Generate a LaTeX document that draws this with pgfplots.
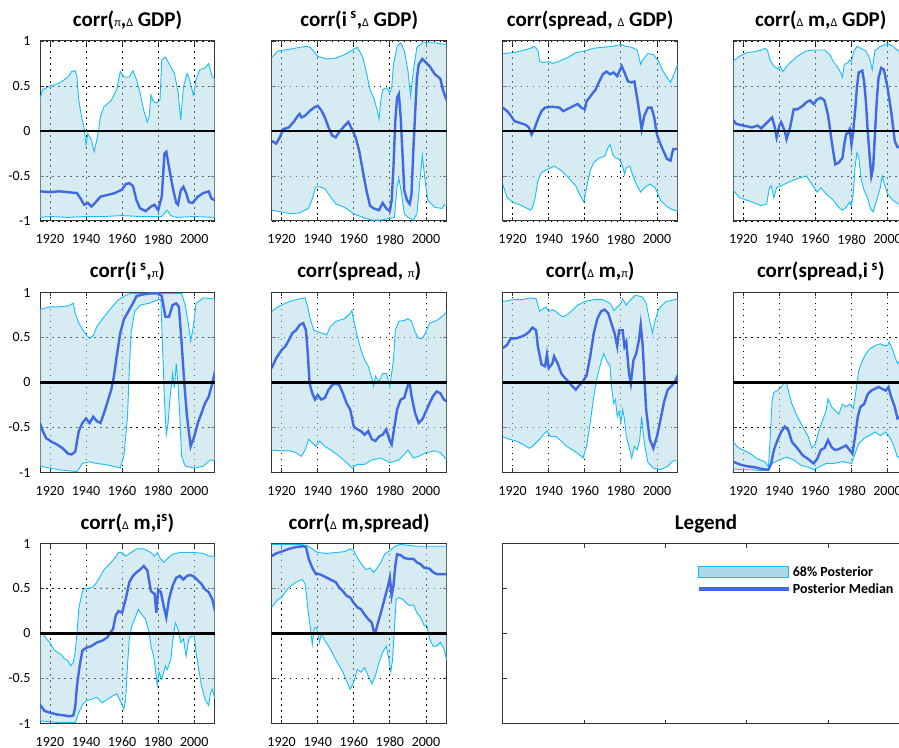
\documentclass[border=0pt]{standalone}
\usepackage{pgfplots}
\pgfplotsset{compat=1.18}
\usepgfplotslibrary{fillbetween}
\usepackage{fontspec}
\setmainfont{Carlito}
\definecolor{bandfill}{RGB}{173,216,230}
\definecolor{edgeblue}{RGB}{20,190,250}
\definecolor{royal}{RGB}{65,105,225}
\newcommand{\sm}[1]{{\fontsize{12}{12}\selectfont\mdseries #1}}
\newcommand{\band}[3]{%
 \addplot[name path=U, edgeblue, line width=0.9pt] coordinates {#1};
 \addplot[name path=L, edgeblue, line width=0.9pt] coordinates {#2};
 \addplot[bandfill, fill opacity=0.5] fill between[of=U and L];
 \addplot[royal, line width=2.4pt] coordinates {#3};
 \addplot[black, line width=2.4pt] coordinates {(1914,0) (2012,0)};
}
\pgfplotsset{
 panel/.style={scale only axis, width=175pt, height=180pt,
  xmin=1914.5, xmax=2011.5, ymin=-1, ymax=1,
  xtick={1920,1940,1960,1980,2000}, xticklabels={1920,1940,1960,1980,2000},
  ytick={-1,-0.5,0,0.5,1},
  grid=major, grid style={black, line width=0.8pt, dash pattern=on 1.6pt off 4.4pt},
  tick align=inside, major tick length=4pt, tick style={black!80, line width=0.8pt},
  axis line style={black!80, line width=1pt},
  /pgf/number format/assume math mode=true,
  tick label style={font=\fontsize{14}{15}\selectfont},
  xticklabel style={yshift=-10pt},
  yticklabel style={xshift=-6pt},
  title style={at={(0.5,1)}, anchor=base, yshift=8.5pt, font=\fontsize{21}{23}\selectfont\bfseries},
 },
 ylab/.style={yticklabels={-1,-0.5,0,0.5,1}},
 noylab/.style={yticklabels={}},
}
\begin{document}
\begin{tikzpicture}

% ---------- Row 1 ----------
\begin{axis}[panel, ylab, at={(40pt,526pt)}, anchor=south west, title={corr(\sm{π},\sm{Δ} GDP)}]
\band{(1914.5,0.36) (1916,0.46) (1920,0.5) (1925,0.53) (1928,0.57) (1930,0.6) (1932,0.66) (1934,0.67) (1935,0.6) (1936,0.34) (1937.5,0.16) (1939,0.03) (1940,-0.16) (1941,-0.03) (1943,-0.1) (1944.5,-0.23) (1946,-0.1) (1947,0.01) (1948,0.16) (1950,0.27) (1954,0.34) (1957,0.46) (1959,0.66) (1961,0.6) (1964,0.6) (1966,0.67) (1968,0.57) (1970,0.42) (1972,0.23) (1974,0.1) (1975,0.16) (1976,0.4) (1977,0.34) (1979,0.31) (1981,0.34) (1982,0.79) (1984,0.82) (1986,0.75) (1989,0.64) (1991,0.44) (1992.5,0.12) (1994,0.49) (1996,0.64) (1997,0.6) (1999.5,0.4) (2001,0.57) (2003,0.68) (2006,0.7) (2008,0.75) (2010,0.6) (2011.5,0.58)}
{(1914.5,-0.96) (1920,-0.95) (1930,-0.96) (1940,-0.95) (1950,-0.95) (1960,-0.94) (1970,-0.95) (1975,-0.95) (1982,-0.95) (1985,-0.88) (1987,-0.94) (1990,-0.96) (2000,-0.95) (2011.5,-0.96)}
{(1914.5,-0.67) (1920,-0.68) (1925,-0.67) (1930,-0.68) (1935,-0.69) (1937,-0.75) (1939,-0.82) (1941,-0.8) (1943,-0.84) (1945,-0.8) (1948,-0.73) (1952,-0.71) (1956,-0.69) (1960,-0.65) (1962,-0.59) (1964,-0.58) (1966,-0.61) (1968,-0.77) (1970,-0.86) (1973,-0.89) (1976,-0.84) (1978,-0.82) (1980,-0.88) (1982,-0.73) (1983.5,-0.25) (1984.5,-0.23) (1986,-0.4) (1988,-0.62) (1990,-0.8) (1991,-0.82) (1992.5,-0.66) (1994,-0.62) (1995.5,-0.69) (1997,-0.79) (1999,-0.8) (2002,-0.73) (2005,-0.69) (2008,-0.67) (2009.5,-0.75) (2011.5,-0.77)}
\end{axis}

\begin{axis}[panel, noylab, at={(271.7pt,526pt)}, anchor=south west, title={corr(i\,\textsuperscript{s},\sm{Δ} GDP)}]
\band{(1914.5,0.82) (1918,0.89) (1925,0.91) (1930,0.93) (1934,0.94) (1936,0.93) (1940,0.83) (1945,0.8) (1950,0.81) (1955,0.85) (1960,0.91) (1962,0.93) (1965,0.82) (1967,0.65) (1969,0.46) (1971,0.37) (1973,0.23) (1974,0.13) (1975,0.34) (1976,0.46) (1978,0.48) (1980,0.43) (1981,0.48) (1982,0.74) (1984,0.94) (1986,0.98) (1988,0.89) (1990,0.67) (1991.5,0.39) (1993,0.67) (1995,0.93) (1998,0.98) (2005,0.98) (2011.5,0.96)}
{(1914.5,-0.88) (1920,-0.9) (1925,-0.92) (1930,-0.91) (1935,-0.86) (1937,-0.75) (1939,-0.62) (1941,-0.62) (1944,-0.64) (1946,-0.7) (1950,-0.81) (1955,-0.85) (1960,-0.92) (1965,-0.96) (1970,-0.99) (1975,-0.99) (1980,-0.97) (1982.5,-0.96) (1984,-0.62) (1985,-0.53) (1986.5,-0.7) (1988,-0.92) (1990,-0.96) (1993,-0.99) (1995,-0.92) (1997,-0.48) (1998,-0.27) (1999.5,-0.55) (2001,-0.77) (2005,-0.85) (2009,-0.86) (2010,-0.82) (2011.5,-0.83)}
{(1914.5,-0.11) (1917,-0.14) (1919,-0.07) (1921,0.02) (1924,0.04) (1927,0.11) (1929,0.17) (1930,0.19) (1931,0.15) (1933,0.17) (1936,0.23) (1938,0.26) (1940,0.28) (1942,0.23) (1944,0.15) (1946,0.04) (1948,-0.05) (1950,-0.07) (1952,-0.01) (1955,0.06) (1957,0.1) (1959,0.02) (1961,-0.07) (1963,-0.22) (1965,-0.44) (1967,-0.66) (1969,-0.83) (1971,-0.86) (1974,-0.88) (1976,-0.8) (1978,-0.86) (1980,-0.89) (1981,-0.77) (1982,-0.4) (1983,0.11) (1984,0.37) (1985,0.41) (1986,0.15) (1987,-0.25) (1988,-0.66) (1989.5,-0.77) (1991,-0.81) (1992,-0.7) (1993,-0.22) (1994,0.19) (1995,0.59) (1996,0.74) (1998,0.8) (2000,0.76) (2002,0.72) (2005,0.63) (2008,0.58) (2009.5,0.45) (2011.5,0.34)}
\end{axis}

\begin{axis}[panel, noylab, at={(502.7pt,526pt)}, anchor=south west, title={corr(spread, \sm{Δ} GDP)}]
\band{(1914.5,0.86) (1920,0.87) (1925,0.89) (1930,0.92) (1932,0.94) (1934,0.9) (1935,0.77) (1937,0.76) (1940,0.77) (1942,0.75) (1945,0.77) (1950,0.81) (1955,0.87) (1960,0.89) (1965,0.92) (1970,0.93) (1975,0.94) (1980,0.96) (1983,0.94) (1986,0.93) (1989,0.9) (1991,0.74) (1992,0.79) (1995,0.86) (1998,0.85) (2001,0.77) (2003,0.68) (2005,0.61) (2007.5,0.54) (2009,0.61) (2011.5,0.74)}
{(1914.5,-0.59) (1917,-0.74) (1920,-0.79) (1925,-0.83) (1930,-0.88) (1931,-0.85) (1932.5,-0.74) (1934,-0.55) (1936,-0.46) (1940,-0.42) (1943,-0.39) (1947,-0.44) (1951,-0.52) (1955,-0.61) (1958,-0.74) (1959.5,-0.79) (1961,-0.63) (1963,-0.44) (1965,-0.35) (1968,-0.3) (1971,-0.28) (1973,-0.18) (1974,-0.15) (1975.5,-0.26) (1977,-0.3) (1979,-0.31) (1981,-0.39) (1982,-0.48) (1983,-0.41) (1985,-0.39) (1987,-0.52) (1989,-0.61) (1991,-0.68) (1993,-0.63) (1996,-0.59) (1999,-0.63) (2002,-0.77) (2005,-0.83) (2008,-0.87) (2011.5,-0.89)}
{(1914.5,0.26) (1917,0.22) (1919,0.17) (1921,0.11) (1924,0.09) (1927,0.07) (1929,0.04) (1930.5,-0.04) (1932,0.02) (1934,0.13) (1936,0.22) (1938,0.26) (1942,0.27) (1946,0.26) (1948,0.22) (1952,0.26) (1956,0.3) (1958,0.26) (1960,0.24) (1961,0.33) (1964,0.41) (1966,0.46) (1968,0.55) (1970,0.63) (1972,0.66) (1974,0.63) (1976,0.65) (1978,0.61) (1980.5,0.72) (1982,0.65) (1984,0.55) (1986,0.54) (1987.5,0.55) (1989,0.37) (1990.5,0.17) (1991.5,0.02) (1993,0.17) (1995,0.26) (1997,0.26) (1998.5,0.15) (2000,-0.04) (2002,-0.15) (2004,-0.24) (2005.5,-0.31) (2007.5,-0.33) (2009,-0.2) (2011.5,-0.2)}
\end{axis}

\begin{axis}[panel, noylab, at={(733.3pt,526pt)}, anchor=south west, title={corr(\sm{Δ} m,\sm{Δ} GDP)}]
\band{(1914.5,0.78) (1918,0.83) (1922,0.87) (1926,0.88) (1930,0.9) (1932,0.92) (1933.5,0.89) (1935,0.78) (1937,0.72) (1939,0.69) (1940.5,0.72) (1942,0.66) (1945,0.74) (1950,0.83) (1955,0.89) (1960,0.9) (1965,0.9) (1968,0.85) (1970,0.77) (1972,0.72) (1974,0.65) (1975,0.6) (1976,0.74) (1978,0.76) (1979,0.79) (1980,0.77) (1981,0.87) (1983,0.94) (1985,0.92) (1988,0.89) (1990,0.81) (1991.5,0.68) (1993,0.89) (1996,0.94) (2000,0.97) (2003,0.94) (2006,0.89) (2009,0.89) (2011.5,0.88)}
{(1914.5,-0.66) (1918,-0.74) (1922,-0.77) (1925,-0.79) (1930,-0.83) (1933,-0.81) (1934.5,-0.63) (1935.5,-0.61) (1937,-0.74) (1938.5,-0.63) (1941,-0.61) (1945,-0.57) (1950,-0.53) (1955,-0.5) (1958,-0.59) (1961,-0.68) (1963,-0.63) (1966,-0.7) (1970,-0.77) (1973,-0.85) (1975,-0.88) (1977,-0.85) (1979,-0.79) (1980,-0.83) (1981,-0.7) (1982,-0.4) (1983,-0.24) (1984,-0.29) (1985.5,-0.55) (1987,-0.66) (1989,-0.75) (1990.5,-0.86) (1992,-0.9) (1994,-0.77) (1996,-0.63) (1997,-0.5) (1998,-0.57) (2000,-0.7) (2003,-0.77) (2006,-0.81) (2011.5,-0.83)}
{(1914.5,0.12) (1916,0.08) (1920,0.06) (1925,0.04) (1928,0.06) (1930,0.03) (1932,0.07) (1934,0.11) (1936,0.15) (1937.5,0.04) (1938.5,-0.07) (1940,0.06) (1941,0.1) (1943,0) (1944,-0.09) (1946,0.04) (1948,0.24) (1950,0.24) (1953,0.28) (1955,0.32) (1957,0.34) (1959,0.3) (1961,0.35) (1963,0.37) (1965,0.34) (1967,0.18) (1969,-0.11) (1971,-0.37) (1973,-0.35) (1975,-0.3) (1976,-0.15) (1977,-0.04) (1978,-0.02) (1979,0.02) (1980,-0.15) (1981,0) (1982,0.22) (1983,0.48) (1984,0.65) (1986,0.67) (1987,0.55) (1988,0.33) (1989,0) (1990,-0.26) (1991,-0.5) (1992,-0.41) (1993,-0.04) (1994,0.33) (1995,0.59) (1996.5,0.7) (1998,0.68) (2000,0.48) (2002,0.22) (2004,-0.11) (2005.5,-0.18) (2008,-0.17) (2011.5,-0.15)}
\end{axis}

% ---------- Row 2 ----------
\begin{axis}[panel, ylab, at={(40pt,274.5pt)}, anchor=south west, title={corr(i\,\textsuperscript{s},\sm{π})}]
\band{(1914.5,0.81) (1920,0.84) (1925,0.84) (1930,0.85) (1933,0.88) (1934,0.77) (1936,0.66) (1938,0.59) (1940,0.53) (1942,0.49) (1944,0.52) (1946,0.62) (1950,0.73) (1954,0.83) (1958,0.92) (1962,0.97) (1965,0.99) (1975,0.99) (1985,0.99) (1993,0.99) (1995,0.86) (1997,0.62) (1998,0.46) (1999.5,0.62) (2001,0.88) (2005,0.94) (2010,0.93) (2011.5,0.93)}
{(1914.5,-0.93) (1920,-0.95) (1925,-0.97) (1930,-0.98) (1935,-0.99) (1938,-0.9) (1942,-0.88) (1946,-0.9) (1950,-0.91) (1955,-0.93) (1959,-0.95) (1961,-0.82) (1963,-0.38) (1964,0.14) (1965,0.55) (1967,0.79) (1970,0.86) (1975,0.88) (1980,0.92) (1981.5,0.92) (1982.5,0.36) (1983.5,-0.19) (1984.5,-0.58) (1985.5,-0.45) (1986.5,-0.19) (1988,0.1) (1989,-0.06) (1990,0.21) (1991,-0.01) (1992,-0.38) (1993,-0.82) (1995,-0.93) (2000,-0.95) (2005,-0.93) (2009,-0.86) (2011.5,-0.87)}
{(1914.5,-0.45) (1916,-0.54) (1918,-0.62) (1921,-0.66) (1924,-0.69) (1927,-0.73) (1930,-0.79) (1932,-0.8) (1934,-0.77) (1936,-0.54) (1938,-0.45) (1940,-0.4) (1942,-0.45) (1944,-0.38) (1946,-0.43) (1948,-0.45) (1950,-0.34) (1952,-0.21) (1954,-0.08) (1955.5,0.07) (1957,0.29) (1959,0.55) (1961,0.7) (1964,0.81) (1966,0.88) (1968,0.96) (1972,0.98) (1976,0.99) (1980,0.99) (1982,0.96) (1984,0.73) (1986,0.73) (1988,0.86) (1990,0.88) (1991.5,0.84) (1993,0.44) (1994.5,-0.01) (1996,-0.38) (1998,-0.71) (2000,-0.6) (2002,-0.45) (2004,-0.34) (2006,-0.23) (2008,-0.16) (2010,-0.01) (2011.5,0.12)}
\end{axis}

\begin{axis}[panel, noylab, at={(271.7pt,274.5pt)}, anchor=south west, title={corr(spread, \sm{π})}]
\band{(1914.5,0.79) (1918,0.84) (1922,0.88) (1926,0.91) (1930,0.93) (1933,0.94) (1934.5,0.84) (1936,0.69) (1938,0.58) (1942,0.55) (1945,0.53) (1947,0.62) (1950,0.68) (1955,0.71) (1958,0.77) (1959,0.8) (1960,0.69) (1962,0.51) (1964,0.36) (1966,0.25) (1968,0.18) (1970,0.05) (1971,-0.04) (1972,0.07) (1974,0.01) (1976,0.1) (1978,0.1) (1979,0.03) (1980,-0.04) (1982,0.25) (1983,0.58) (1985,0.68) (1988,0.69) (1990,0.71) (1992,0.68) (1994,0.56) (1996,0.49) (1998,0.49) (2000,0.56) (2002,0.66) (2006,0.69) (2010,0.75) (2011.5,0.79)}
{(1914.5,-0.75) (1920,-0.76) (1925,-0.76) (1928,-0.78) (1931,-0.82) (1933,-0.75) (1935,-0.63) (1937,-0.67) (1939,-0.71) (1941,-0.65) (1944,-0.71) (1948,-0.76) (1952,-0.82) (1956,-0.89) (1959,-0.95) (1962,-0.91) (1966,-0.91) (1970,-0.86) (1975,-0.84) (1980,-0.89) (1985,-0.86) (1988,-0.8) (1990,-0.75) (1991,-0.78) (1993,-0.84) (1996,-0.82) (2000,-0.78) (2005,-0.76) (2008,-0.78) (2011.5,-0.86)}
{(1914.5,0.16) (1917,0.27) (1920,0.36) (1922,0.4) (1924,0.47) (1926,0.55) (1928,0.58) (1930,0.64) (1932,0.66) (1933.5,0.58) (1934.5,0.32) (1935.5,-0.01) (1937,-0.12) (1938.5,-0.19) (1940,-0.14) (1942,-0.19) (1944,-0.17) (1946,-0.08) (1948,-0.03) (1950,-0.01) (1952,-0.03) (1954,-0.12) (1956,-0.23) (1958,-0.3) (1960,-0.49) (1962,-0.52) (1964,-0.54) (1966,-0.58) (1968,-0.54) (1970,-0.63) (1972,-0.65) (1974,-0.6) (1976,-0.58) (1978,-0.52) (1980,-0.65) (1981,-0.69) (1982,-0.56) (1984,-0.3) (1986,-0.19) (1988,-0.17) (1990,-0.03) (1991,-0.01) (1992,-0.15) (1994,-0.34) (1996,-0.45) (1998,-0.41) (2000,-0.32) (2002,-0.23) (2004,-0.15) (2006,-0.1) (2008,-0.12) (2010,-0.19) (2011.5,-0.21)}
\end{axis}

\begin{axis}[panel, noylab, at={(502.7pt,274.5pt)}, anchor=south west, title={corr(\sm{Δ} m,\sm{π})}]
\band{(1914.5,0.9) (1920,0.92) (1925,0.92) (1930,0.94) (1933,0.93) (1935,0.79) (1937,0.82) (1938.5,0.84) (1940,0.79) (1942,0.81) (1944,0.79) (1946,0.75) (1948,0.73) (1950,0.75) (1953,0.8) (1956,0.86) (1960,0.9) (1965,0.92) (1970,0.92) (1974,0.88) (1976,0.8) (1978,0.84) (1980,0.88) (1981,0.93) (1983,0.86) (1985,0.91) (1988,0.97) (1992,0.95) (1994,0.88) (1996,0.68) (1997.5,0.55) (1999,0.69) (2001,0.82) (2005,0.9) (2010,0.92) (2011.5,0.92)}
{(1914.5,-0.6) (1918,-0.63) (1922,-0.65) (1926,-0.69) (1929,-0.73) (1931,-0.71) (1933,-0.67) (1935,-0.63) (1937,-0.58) (1939,-0.54) (1941,-0.6) (1944,-0.6) (1947,-0.65) (1950,-0.71) (1954,-0.76) (1957,-0.8) (1959,-0.84) (1961,-0.71) (1963,-0.45) (1965,-0.15) (1967,0.07) (1969,0.23) (1970.5,0.32) (1972,0.25) (1974,0.18) (1975,-0.08) (1976,-0.23) (1977,-0.19) (1978,-0.38) (1979,-0.32) (1980,-0.45) (1981,-0.3) (1982,-0.41) (1983,-0.6) (1985,-0.75) (1986,-0.84) (1987.5,-0.71) (1989,-0.75) (1990.5,-0.63) (1991.5,-0.38) (1993,-0.67) (1995,-0.89) (1998,-0.95) (2002,-0.97) (2006,-0.93) (2009,-0.87) (2011.5,-0.87)}
{(1914.5,0.38) (1917,0.42) (1919,0.49) (1922,0.49) (1925,0.51) (1927,0.53) (1929,0.56) (1931,0.61) (1933,0.58) (1934,0.4) (1936,0.2) (1938,0.18) (1939,0.31) (1940,0.16) (1942,0.21) (1943,0.29) (1945,0.21) (1947,0.1) (1949,0.05) (1951,0.01) (1953,-0.04) (1955,-0.08) (1957,-0.03) (1959,0.01) (1961,0.08) (1963,0.29) (1965,0.55) (1967,0.71) (1969,0.79) (1971,0.81) (1973,0.77) (1975,0.64) (1976.5,0.55) (1978,0.4) (1979,0.58) (1981,0.58) (1982,0.4) (1983,0.45) (1984.5,0.1) (1985.5,-0.01) (1987,0.25) (1988.5,0.32) (1990,0.47) (1991,0.64) (1992,0.44) (1993,0.07) (1994,-0.3) (1996,-0.63) (1998,-0.73) (2000,-0.6) (2002,-0.41) (2004,-0.21) (2006,-0.08) (2008,-0.04) (2010,0.01) (2011.5,0.08)}
\end{axis}

\begin{axis}[panel, noylab, at={(733.3pt,274.5pt)}, anchor=south west, title={corr(spread,i\,\textsuperscript{s})}]
\band{(1914.5,-0.66) (1917,-0.72) (1920,-0.75) (1924,-0.79) (1928,-0.85) (1932,-0.88) (1934,-0.94) (1935,-0.6) (1936,-0.2) (1937,-0.11) (1939,-0.09) (1941,-0.05) (1943,0) (1944,-0.01) (1945,-0.09) (1947,-0.24) (1950,-0.38) (1953,-0.49) (1956,-0.6) (1958,-0.73) (1960,-0.68) (1962,-0.53) (1964,-0.42) (1966,-0.31) (1967,-0.18) (1969,-0.27) (1971,-0.31) (1973,-0.35) (1975,-0.24) (1977,-0.27) (1979,-0.24) (1981,-0.29) (1982.5,-0.09) (1984,0.13) (1986,0.24) (1988,0.32) (1990,0.37) (1993,0.41) (1996,0.43) (1998,0.41) (2000,0.41) (2001,0.45) (2003,0.35) (2005.5,0.21) (2008,0.28) (2011.5,0.25)}
{(1914.5,-0.96) (1920,-0.97) (1925,-0.97) (1930,-0.98) (1934,-0.97) (1936,-0.9) (1940,-0.86) (1944,-0.83) (1948,-0.86) (1952,-0.92) (1956,-0.94) (1959,-0.97) (1962,-0.94) (1966,-0.9) (1970,-0.9) (1975,-0.88) (1980,-0.9) (1982,-0.79) (1984,-0.68) (1987,-0.62) (1990,-0.59) (1993,-0.55) (1996,-0.59) (1999,-0.55) (2001,-0.6) (2003,-0.68) (2005.5,-0.83) (2008,-0.81) (2011.5,-0.79)}
{(1914.5,-0.88) (1918,-0.91) (1922,-0.93) (1926,-0.94) (1930,-0.96) (1934,-0.97) (1935.5,-0.9) (1937,-0.75) (1939,-0.64) (1941,-0.55) (1943,-0.49) (1945,-0.53) (1947,-0.66) (1950,-0.73) (1953,-0.81) (1956,-0.85) (1959,-0.9) (1961,-0.85) (1963,-0.75) (1965,-0.73) (1967,-0.64) (1969,-0.72) (1971,-0.75) (1973,-0.74) (1975,-0.72) (1977,-0.7) (1979,-0.75) (1980.5,-0.79) (1982,-0.6) (1983.5,-0.38) (1985,-0.27) (1987,-0.24) (1989,-0.13) (1991,-0.09) (1993,-0.07) (1995,-0.05) (1997,-0.07) (1999,-0.09) (2000.5,-0.05) (2002,-0.16) (2004,-0.27) (2005.5,-0.4) (2008,-0.37) (2011.5,-0.38)}
\end{axis}

% ---------- Row 3 ----------
\begin{axis}[panel, ylab, at={(40pt,23.5pt)}, anchor=south west, title={corr(\sm{Δ} m,i\textsuperscript{s})}]
\band{(1914.5,0.02) (1916,0.01) (1918,-0.06) (1920,-0.1) (1922,-0.17) (1924,-0.21) (1926,-0.23) (1928,-0.28) (1930,-0.3) (1931.5,-0.36) (1933,-0.32) (1934,-0.21) (1935,0.01) (1936,0.27) (1937,0.38) (1938,0.46) (1939,0.5) (1941,0.5) (1944,0.52) (1946,0.57) (1948,0.64) (1950,0.71) (1953,0.77) (1956,0.84) (1958,0.9) (1960,0.9) (1962,0.86) (1965,0.9) (1968,0.94) (1972,0.94) (1976,0.9) (1978,0.86) (1979.5,0.9) (1981,0.84) (1983,0.79) (1985,0.83) (1988,0.88) (1992,0.9) (1996,0.9) (2000,0.9) (2005,0.89) (2008,0.86) (2011.5,0.86)}
{(1914.5,-0.97) (1920,-0.98) (1925,-0.99) (1930,-0.99) (1934,-0.99) (1936,-0.88) (1938,-0.79) (1940,-0.75) (1943,-0.73) (1946,-0.71) (1949,-0.77) (1952,-0.73) (1955,-0.69) (1957,-0.67) (1959,-0.75) (1961,-0.84) (1962,-0.73) (1963,-0.36) (1964,-0.06) (1965.5,0.09) (1967,0.16) (1969,0.27) (1971,0.21) (1973,0.16) (1975,0.01) (1976,-0.14) (1977.5,-0.25) (1978.5,-0.4) (1979.5,-0.58) (1980.5,-0.43) (1982,-0.51) (1984,-0.36) (1985,-0.4) (1987,-0.29) (1988,-0.1) (1989.5,0.12) (1991,0.05) (1992.5,-0.1) (1994,-0.06) (1995.5,-0.25) (1997,-0.06) (1998.5,-0.03) (2000,-0.03) (2001,-0.21) (2002.5,-0.4) (2004,-0.58) (2006,-0.73) (2008,-0.8) (2009,-0.66) (2010,-0.62) (2011.5,-0.73)}
{(1914.5,-0.79) (1917,-0.86) (1920,-0.88) (1924,-0.9) (1928,-0.91) (1931,-0.92) (1933,-0.91) (1934,-0.82) (1935,-0.58) (1936.5,-0.36) (1938,-0.19) (1940,-0.16) (1943,-0.14) (1946,-0.1) (1949,-0.08) (1952,-0.04) (1953.5,0.01) (1955,0.05) (1956.5,0.2) (1958,0.25) (1960,0.23) (1962,0.38) (1964,0.57) (1966,0.64) (1968,0.68) (1970,0.71) (1972,0.75) (1974,0.7) (1976,0.47) (1978,0.44) (1979,0.23) (1980,0.49) (1981.5,0.46) (1983,0.31) (1984.5,0.18) (1986,0.38) (1988,0.53) (1990,0.62) (1992,0.64) (1994,0.6) (1996,0.64) (1998,0.65) (2000,0.63) (2002,0.59) (2004,0.55) (2006,0.49) (2008,0.46) (2010,0.38) (2011.5,0.25)}
\end{axis}

\begin{axis}[panel, noylab, at={(271.7pt,23.5pt)}, anchor=south west, title={corr(\sm{Δ} m,spread)}]
\band{(1914.5,0.99) (1920,0.99) (1930,0.99) (1934,0.98) (1937,0.94) (1940,0.9) (1945,0.89) (1950,0.9) (1955,0.91) (1958,0.94) (1960,0.92) (1962,0.84) (1965,0.75) (1967,0.71) (1969,0.73) (1971,0.68) (1973,0.73) (1975,0.79) (1977,0.88) (1980,0.92) (1981,0.94) (1983,0.97) (1986,0.99) (1990,0.98) (1995,0.97) (2000,0.97) (2005,0.97) (2010,0.97) (2011.5,0.97)}
{(1914.5,0.29) (1916,0.33) (1918,0.38) (1920,0.4) (1922,0.46) (1924,0.51) (1926,0.54) (1928,0.57) (1930,0.59) (1931.5,0.6) (1933,0.55) (1934,0.38) (1935,0.2) (1936,0.05) (1937,-0.12) (1938,0.05) (1939,0.07) (1940,0.01) (1941,-0.1) (1942,0) (1944,-0.08) (1946,-0.14) (1948,-0.21) (1950,-0.29) (1952,-0.36) (1954,-0.43) (1956,-0.53) (1958,-0.62) (1960,-0.54) (1962,-0.4) (1964,-0.43) (1966,-0.38) (1968,-0.47) (1970,-0.56) (1972,-0.47) (1974,-0.32) (1976,-0.21) (1978,-0.14) (1979.5,-0.29) (1980.5,-0.43) (1981.5,-0.29) (1982.5,0.05) (1983.5,0.38) (1985,0.4) (1987,0.38) (1989,0.34) (1991,0.31) (1993,0.32) (1995,0.23) (1997,0.18) (1999,0.09) (2000.5,0.09) (2002,-0.06) (2004,-0.14) (2006,-0.14) (2008,-0.1) (2010,-0.17) (2011.5,-0.3)}
{(1914.5,0.86) (1917,0.89) (1920,0.91) (1924,0.94) (1928,0.96) (1932,0.97) (1933.5,0.96) (1935,0.83) (1937,0.73) (1939,0.66) (1941,0.66) (1943,0.64) (1945,0.62) (1948,0.59) (1950,0.57) (1952,0.51) (1954,0.47) (1956,0.42) (1958,0.4) (1960,0.34) (1962,0.29) (1964,0.27) (1966,0.21) (1968,0.16) (1970,0.12) (1971,0.03) (1972,0.01) (1973,0.09) (1975,0.23) (1977,0.38) (1979,0.53) (1980,0.62) (1981,0.42) (1982,0.53) (1983,0.75) (1984,0.88) (1986,0.87) (1988,0.84) (1990,0.83) (1993,0.83) (1995,0.79) (1997,0.77) (1999,0.73) (2002,0.72) (2004,0.68) (2006,0.66) (2008,0.66) (2011.5,0.66)}
\end{axis}

% ---------- Legend panel ----------
\begin{axis}[scale only axis, width=406.5pt, height=180pt, at={(502.7pt,23.5pt)}, anchor=south west,
  xmin=0, xmax=1, ymin=0, ymax=1, xtick={0.2,0.4,0.6,0.8}, ytick={0.25,0.5,0.75},
  xticklabels={}, yticklabels={}, tick align=inside, major tick length=4pt,
  tick style={black!80, line width=0.8pt}, axis line style={black!80, line width=1pt},
  title={Legend}, title style={at={(0.5,1)}, anchor=base, yshift=8.5pt, font=\fontsize{21}{23}\selectfont\bfseries},
  legend style={at={(0.477,0.885)}, anchor=north west, draw=none, fill=none, inner sep=0pt,
    font=\fontsize{14}{15}\selectfont\bfseries, row sep=1.5pt,
    nodes={inner sep=2pt, xshift=2pt}},
  legend cell align=left]
\addlegendimage{legend image code/.code={\draw[fill=bandfill, draw=edgeblue, line width=0.9pt] (-2pt,-5.8pt) rectangle (88pt,5.8pt);}}
\addlegendentry{68\% Posterior}
\addlegendimage{legend image code/.code={\draw[royal, line width=4pt] (-2pt,0pt) -- (88pt,0pt);}}
\addlegendentry{Posterior Median}
\end{axis}
\pgfresetboundingbox
\path[use as bounding box] (0pt,0pt) rectangle (899pt,747pt);
\end{tikzpicture}
\end{document}
